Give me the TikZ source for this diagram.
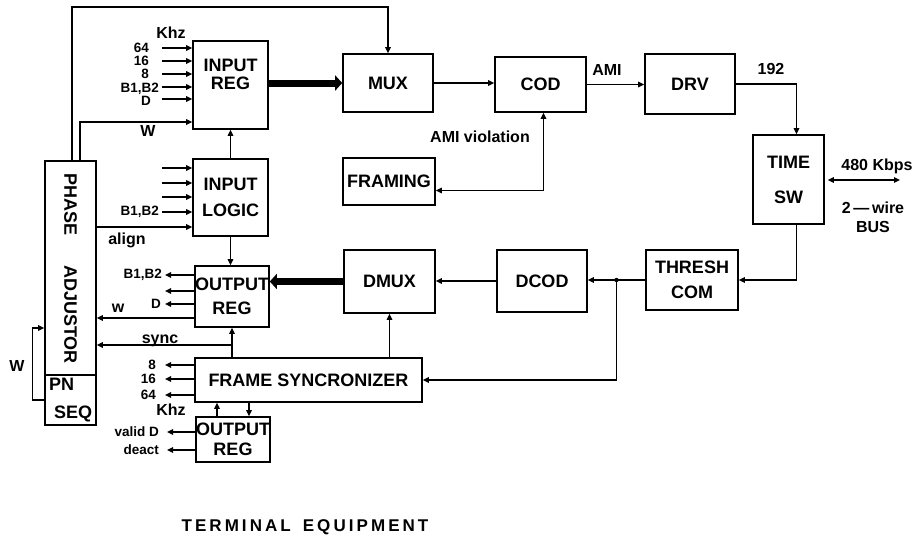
\documentclass[tikz,border=0pt]{standalone}
\usepackage{fontspec}
\setmainfont{Liberation Sans}
\usetikzlibrary{arrows.meta,calc}

\tikzset{
  blk/.style={draw,line width=1.6pt,inner sep=0pt},
  txt/.style={font=\bfseries\fontsize{18}{19}\selectfont,align=center,inner sep=0pt},
  lbl/.style={font=\bfseries\fontsize{16}{17}\selectfont,inner sep=1pt},
  slbl/.style={font=\bfseries\fontsize{13.5}{14}\selectfont,inner sep=0pt},
  arr/.style={line width=1.4pt,-{Triangle[length=6pt,width=5.5pt]}},
  darr/.style={line width=1.4pt,{Triangle[length=6pt,width=5.5pt]}-{Triangle[length=6pt,width=5.5pt]}},
  fat/.style={line width=7pt,-{Triangle[length=7pt,width=15pt]}},
}

\begin{document}
\begin{tikzpicture}[x=1pt,y=-1pt]
\useasboundingbox (0,0) rectangle (921,542);

% blocks
\node[blk,minimum width=75pt,minimum height=88pt] (inreg) at (230.5,85) {};
\node[txt] (inregT) at (230.5,74) {INPUT\\[-1pt]REG};
\node[blk,txt,minimum width=75pt,minimum height=77pt] (inlog) at (230.5,197.5) {INPUT\\[7pt]LOGIC};
\node[blk,txt,minimum width=74pt,minimum height=61pt] (outreg) at (232,296.5) {OUTPUT\\[5pt]REG};
\node[blk,txt,minimum width=227pt,minimum height=44pt] (fs) at (308.5,380) {FRAME SYNCRONIZER};
\node[blk,txt,minimum width=72pt,minimum height=45pt] (outreg2) at (233,439.5) {OUTPUT\\[1pt]REG};
\node[blk,txt,minimum width=90pt,minimum height=58pt] (mux) at (388,83) {MUX};
\node[blk,txt,minimum width=91pt,minimum height=55pt] (cod) at (540.5,84.5) {COD};
\node[blk,txt,minimum width=90pt,minimum height=60pt] (drv) at (690,84) {DRV};
\node[blk,txt,minimum width=92pt,minimum height=47pt] (fram) at (389,181.5) {FRAMING};
\node[blk,txt,minimum width=71pt,minimum height=89pt] (tsw) at (788.5,179.5) {TIME\\[16pt]SW};
\node[blk,txt,minimum width=92pt,minimum height=60pt] (thr) at (692,280) {THRESH\\[6pt]COM};
\node[blk,txt,minimum width=90pt,minimum height=62pt] (dcod) at (542,281) {DCOD};
\node[blk,txt,minimum width=91pt,minimum height=63pt] (dmux) at (389.5,281.5) {DMUX};
\node[blk,minimum width=51pt,minimum height=214pt] (phase) at (70.5,268) {};
\node[txt,rotate=-90] (phaseT) at (70.5,268.5) {PHASE\hspace{30pt}ADJUSTOR};
\node[blk,minimum width=51pt,minimum height=50pt] (pn) at (70.5,400) {};
\node[txt,align=left,anchor=west] (pnT) at (49,400) {PN\\[9pt]\hspace{5pt}SEQ};

% helper levels
\coordinate (topY) at (0,7);
\coordinate (wY) at (0,122);
\coordinate (alY) at (0,227);
\coordinate (woY) at (0,318);
\coordinate (syY) at (0,345);
\coordinate (pnY) at (0,328);
\coordinate (bus) at (900,180);

% inputs of INPUT REG
\node[lbl] (khzIn) at (171,33) {Khz};
\foreach \yy/\lab/\xx/\ly [count=\i] in {48/64/149/47.5,61/16/149/60.5,74/8/149/73.5,87/{B1,B2}/159/88.5,99/D/151/100.5}{
  \coordinate (ri\i) at (162,\yy);
  \node[slbl,anchor=east] (ril\i) at (\xx,\ly) {\lab};
  \draw[arr] (ri\i) -- (ri\i -| inreg.west);
}
% inputs of INPUT LOGIC
\foreach \yy [count=\i] in {168,183,197,212}{
  \coordinate (li\i) at (162,\yy);
  \draw[arr] (li\i) -- (li\i -| inlog.west);
}
\node[slbl,anchor=east] (lil4) at (159,212) {B1,B2};

% outputs of OUTPUT REG
\foreach \yy [count=\i] in {275,291,304}{
  \coordinate (ro\i) at (165,\yy);
  \draw[arr] (ro\i -| outreg.west) -- (ro\i);
}
\node[slbl,anchor=east] (rol1) at (162,275) {B1,B2};
\node[slbl,anchor=east] (rol3) at (161,304) {D};
\node[lbl] (wlab) at (118,308) {w};

% outputs of FRAME SYNCRONIZER
\foreach \yy/\lab [count=\i] in {365/8,379/16,395/64}{
  \coordinate (fo\i) at (165,\yy);
  \node[slbl,anchor=east] (fol\i) at (156,\yy) {\lab};
  \draw[arr] (fo\i -| fs.west) -- (fo\i);
}
\node[lbl] (khzOut) at (171,410) {Khz};

% outputs of second OUTPUT REG
\foreach \yy/\lab [count=\i] in {432/{valid D},450/deact}{
  \coordinate (vo\i) at (167,\yy);
  \node[slbl,anchor=east] (vol\i) at (159,\yy) {\lab};
  \draw[arr] (vo\i -| outreg2.west) -- (vo\i);
}

% phase adjustor links
\draw[arr] ([xshift=1.5pt]phase.north) |- (topY -| mux.north) -- (mux.north);
\draw[arr] ([xshift=9.5pt]phase.north) |- (inreg.west |- wY);
\node[lbl] (wIn) at (148,131) {W};
\draw[arr] (phase.east |- alY) -- (inlog.west |- alY);
\node[lbl] (align) at (127,240) {align};
\draw[arr] (outreg.west |- woY) -- (phase.east |- woY);
\draw[arr] (outreg.south |- fs.north) -- (outreg.south);
\draw[arr] (outreg.south |- syY) -- (phase.east |- syY);
\node[lbl,anchor=base] (sync) at (160,343) {sync};
\draw[arr] (pn.west) -- ++(-12,0) |- (phase.west |- pnY);
\node[lbl] (wLoop) at (17,366) {W};

% left column links
\draw[arr] (inlog.north) -- (inreg.south);
\draw[arr] (inlog.south) -- (inlog.south |- outreg.north);
\draw[arr] ([xshift=-16pt]outreg2.north) -- ([xshift=-16pt]outreg2.north |- fs.south);
\draw[arr] ([xshift=16pt]outreg2.north |- fs.south) -- ([xshift=16pt]outreg2.north);

% transmit path
\draw[fat] (inreg.east |- mux.west) -- (mux.west);
\draw[arr] (mux.east) -- (cod.west |- mux.east);
\draw[arr] (cod.east) -- (drv.west |- cod.east);
\node[lbl] (ami) at (607,70) {AMI};
\draw[darr] ([xshift=3pt]cod.south) |- ([yshift=-9pt]fram.east);
\node[lbl] (amiv) at (480,137) {AMI violation};
\draw[arr] (drv.east) -| ([xshift=8pt]tsw.north);
\node[lbl] (r192) at (771,69) {192};
\draw[darr] ([xshift=3pt]tsw.east |- bus) -- (bus);
\node[lbl] (kbps) at (877,166) {480 Kbps};
\node[lbl,align=center] (wire) at (873,217) {2\,---\,wire\\[2pt]BUS};

% receive path
\draw[arr] ([xshift=8pt]tsw.south) |- (thr.east);
\draw[arr] (thr.west) -- (dcod.east |- thr.west);
\coordinate (jn) at ($(dcod.east |- thr.west)!0.5!(thr.west)$);
\fill (jn) circle (2.2pt);
\draw[arr] (jn) |- (fs.east);
\draw[arr] (dcod.west) -- (dmux.east |- dcod.west);
\draw[arr] (dmux.south |- fs.north) -- (dmux.south);
\draw[fat] (dmux.west) -- (outreg.east |- dmux.west);

% caption
\node[font=\bfseries\fontsize{17}{18}\selectfont\addfontfeatures{LetterSpace=18}] (title) at (305,527) {TERMINAL\hspace{12pt}EQUIPMENT};
\end{tikzpicture}
\end{document}
